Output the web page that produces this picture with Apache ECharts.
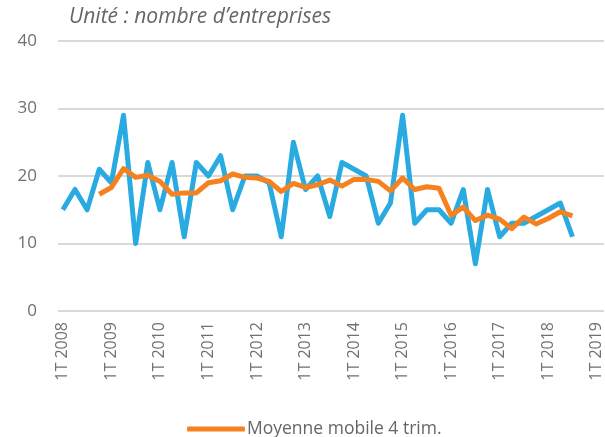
<!doctype html>
<html>
<head>
    <meta charset="utf-8">
    <title>Entreprises</title>
    <script src="https://cdnjs.cloudflare.com/ajax/libs/echarts/6.0.0/echarts.min.js"></script>
</head>
<style>
    html, body { margin: 0; padding: 0; background: #fff; }
    #chart { width: 605px; height: 437px; }
</style>
<body>
<div id="chart"></div>
<script>
  // quarters 1T 2008 .. 1T 2019 (axis), data up to 3T 2018
  var years = [2008, 2009, 2010, 2011, 2012, 2013, 2014, 2015, 2016, 2017, 2018, 2019];

  var entreprises = [15, 18, 15, 21, 19, 29, 10, 22, 15, 22, 11, 22, 20, 23, 15, 20,
                     20, 19, 11, 25, 18, 20, 14, 22, 21, 20, 13, 16, 29, 13, 15, 15,
                     13, 18, 7, 18, 11, 13, 13, 14, 15, 16, 11];

  // moving average starts at 4T 2008 (index 3)
  var moyenne = [null, null, null, 17.3, 18.3, 21.1, 19.8, 20.1, 19.2, 17.3, 17.5, 17.5, 19.0,
                 19.3, 20.3, 19.8, 19.7, 19.2, 17.7, 18.9, 18.3, 18.7, 19.4, 18.5, 19.5,
                 19.5, 19.2, 17.8, 19.7, 18.0, 18.4, 18.2, 14.2, 15.4, 13.4, 14.2, 13.6,
                 12.2, 13.9, 12.9, 13.7, 14.7, 14.1];

  var chart = echarts.init(document.getElementById('chart'));

  function pairs(arr) {
    return arr.map(function (v, i) { return [i, v]; });
  }

  var labelPos = years.map(function (y, i) { return i * 4; });

  var option = {
    animation: false,
    textStyle: { fontFamily: 'Open Sans' },
    title: {
      text: 'Unité : nombre d\u2019entreprises',
      left: 64,
      top: 2,
      textStyle: { fontSize: 21, fontStyle: 'italic', fontWeight: 'normal', color: '#666', fontFamily: 'Open Sans' }
    },
    legend: {
      data: ['Moyenne mobile 4 trim.'],
      left: 182,
      top: 415,
      icon: 'roundRect',
      itemWidth: 58,
      itemHeight: 5,
      itemGap: 4,
      textStyle: { fontSize: 17.5, color: '#666', padding: [0, 0, 0, -3] }
    },
    grid: { left: 58, right: 1, top: 41, bottom: 126 },
    xAxis: {
      type: 'value',
      min: -0.4,
      max: 44.6,
      axisLine: { show: false },
      axisTick: { show: false },
      splitLine: { show: false },
      axisLabel: {
        customValues: labelPos,
        rotate: 90,
        margin: 11,
        fontSize: 16,
        color: '#707070',
        formatter: function (v) { return '1T ' + years[Math.round(v / 4)]; }
      }
    },
    yAxis: {
      type: 'value',
      min: 0,
      max: 40,
      interval: 10,
      axisLabel: { fontSize: 17, color: '#707070', margin: 21 },
      axisLine: { show: false },
      axisTick: { show: false },
      splitLine: { lineStyle: { color: '#d9d9d9', width: 2 } }
    },
    series: [
      {
        name: 'Entreprises',
        type: 'line',
        data: pairs(entreprises),
        symbol: 'none',
        lineStyle: { color: '#29abe2', width: 5, join: 'round' },
        itemStyle: { color: '#29abe2' }
      },
      {
        name: 'Moyenne mobile 4 trim.',
        type: 'line',
        data: pairs(moyenne),
        symbol: 'none',
        lineStyle: { color: '#f5821f', width: 5, join: 'round' },
        itemStyle: { color: '#f5821f' }
      }
    ]
  };

  chart.setOption(option);
</script>
</body>
</html>
